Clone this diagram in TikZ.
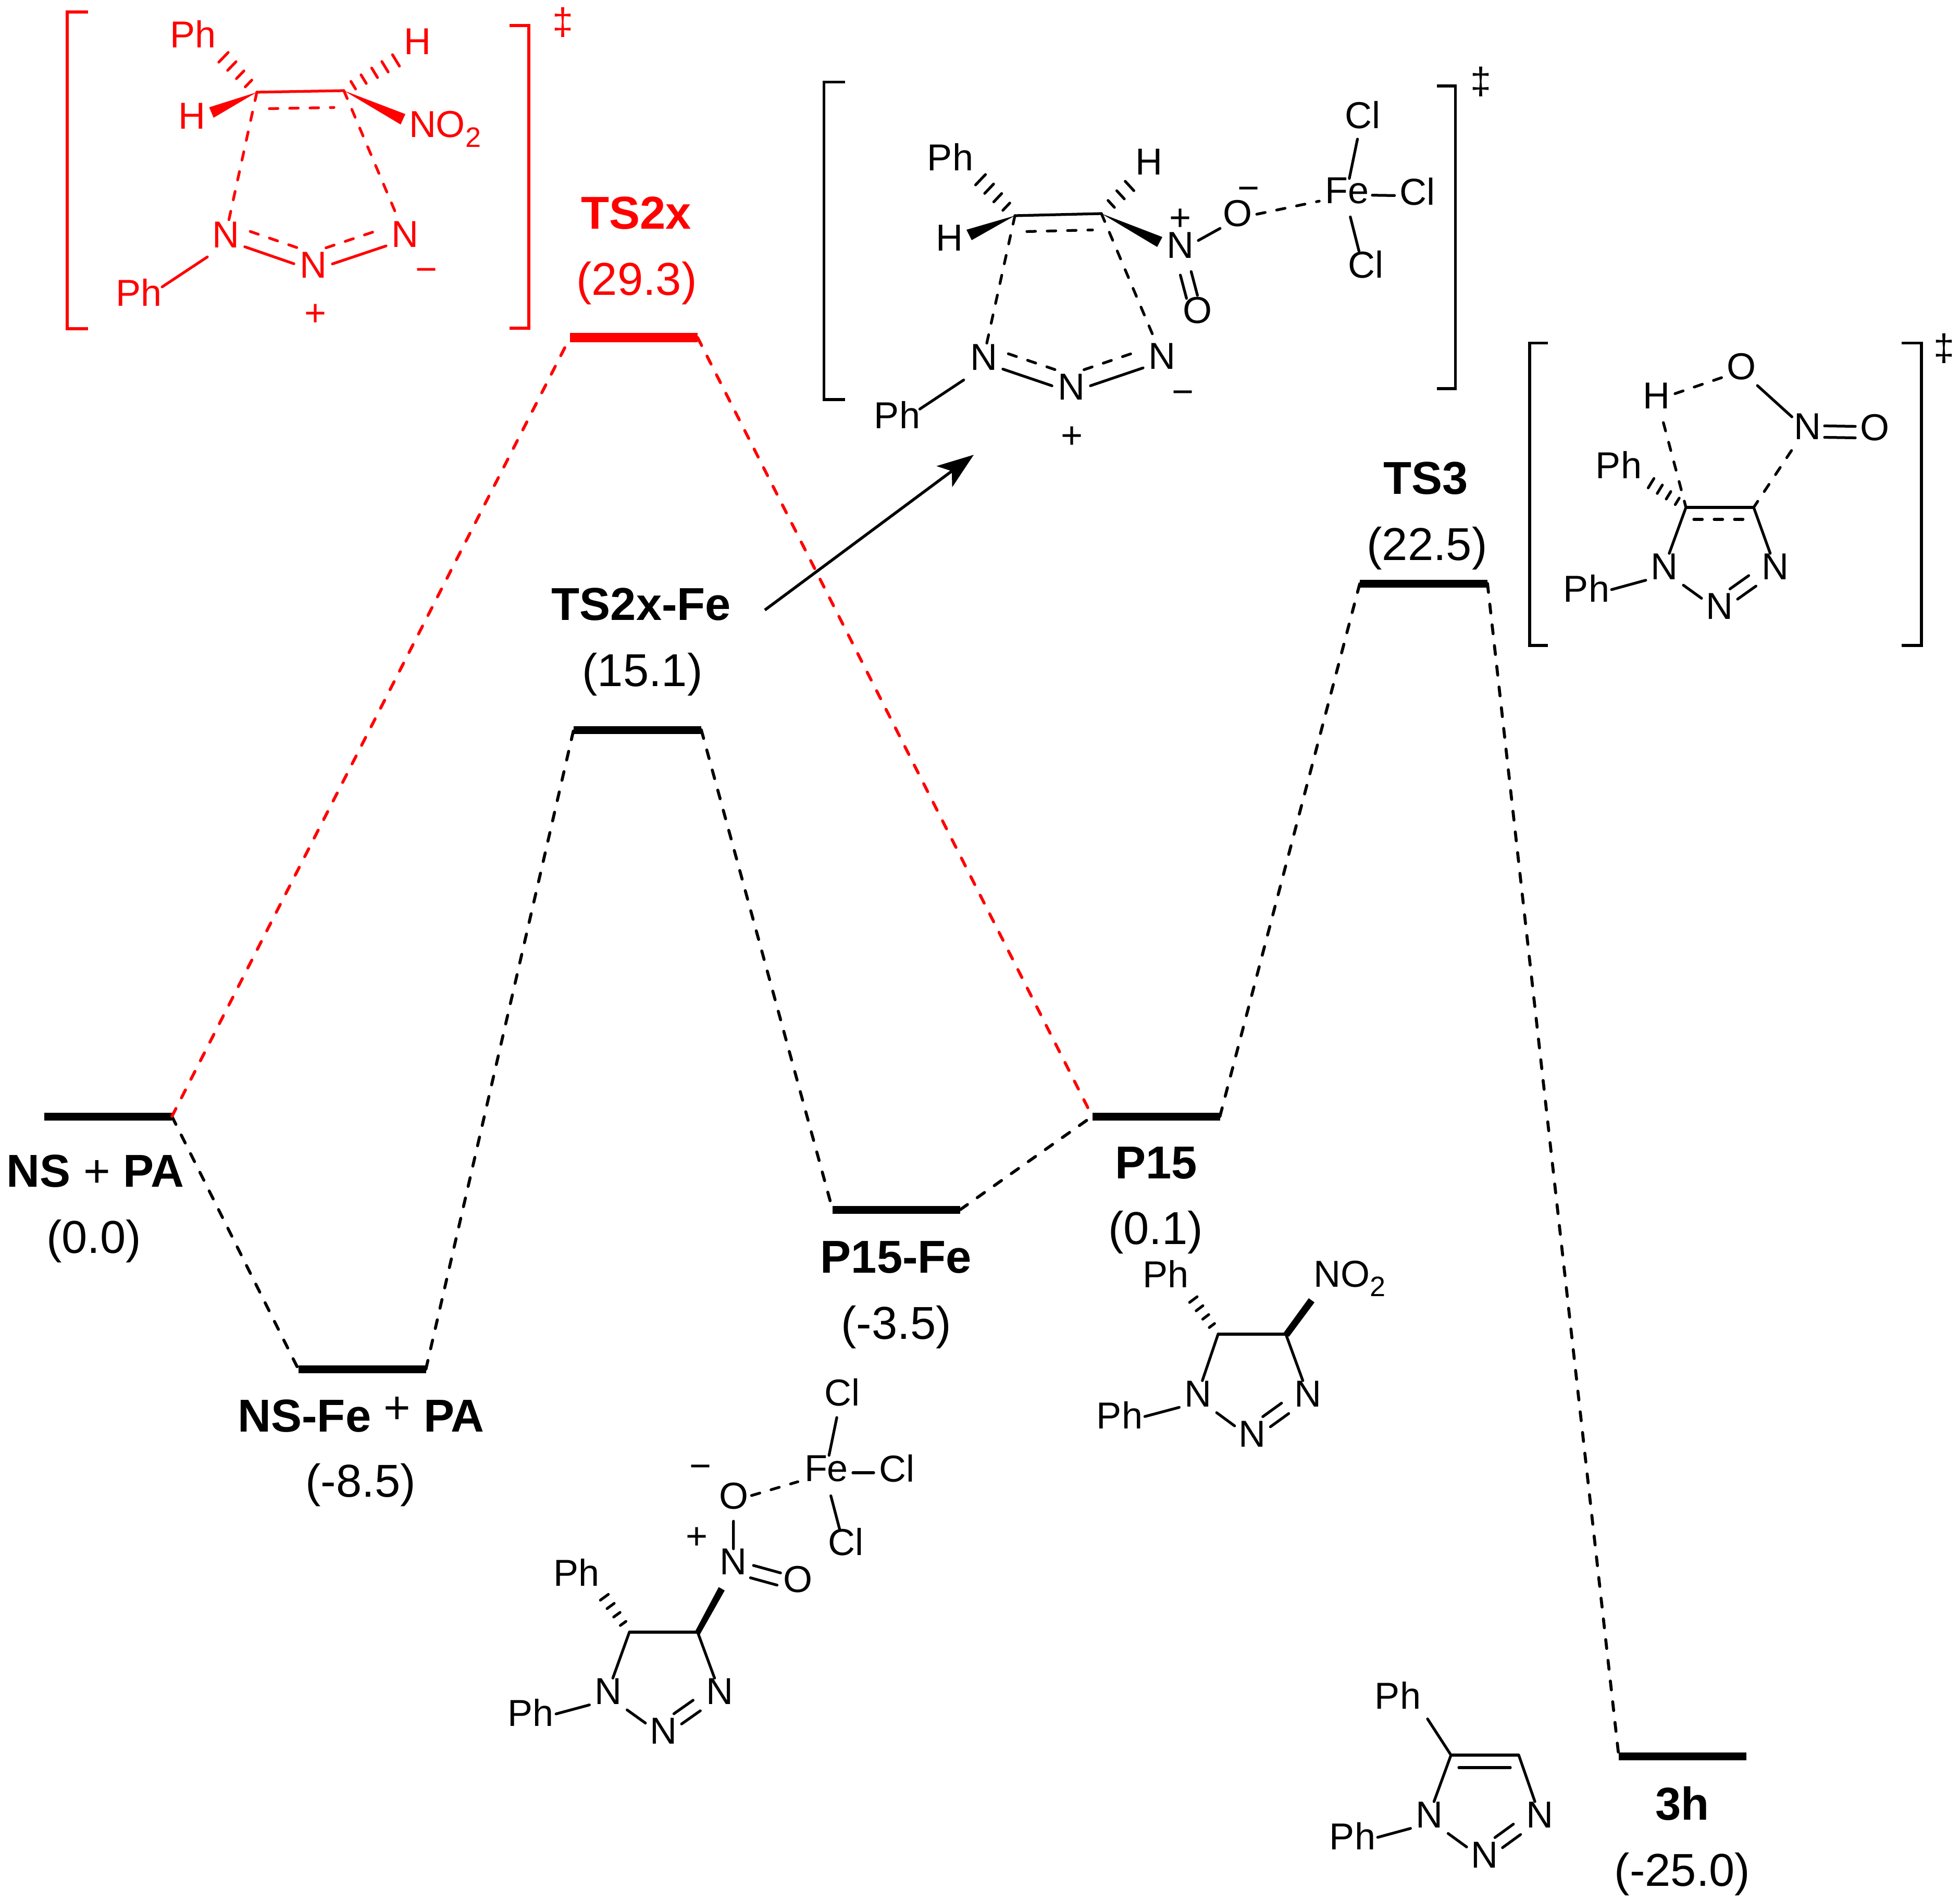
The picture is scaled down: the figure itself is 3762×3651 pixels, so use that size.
\documentclass[tikz,border=0pt]{standalone}
\usepackage{fontspec}
\setmainfont{Liberation Sans}
\usetikzlibrary{arrows.meta,calc}
\newcommand{\pxu}{0.2pt}
\newcommand{\notwo}{NO\raisebox{-3.6pt}{\fontsize{10.8}{10.8}\selectfont 2}}
\tikzset{
  atom/.style={inner sep=0pt, font=\fontsize{14.4}{14.4}\selectfont},
  chg/.style={atom, text height=9.2pt, text depth=0pt},
  bond/.style={line width=1.05pt, line cap=round},
  bdash/.style={bond, dash pattern=on 3.3pt off 4.5pt},
  brk/.style={line width=1.05pt},
  lvl/.style={fill=black, minimum width=49pt, minimum height=3pt, inner sep=0pt, outer sep=0pt},
  cdash/.style={line width=1.15pt, line cap=round, dash pattern=on 3.4pt off 4.6pt},
  labn/.style={anchor=base, inner sep=0pt, font=\fontsize{17.7}{17.7}\selectfont\bfseries},
  labv/.style={anchor=base, inner sep=0pt, font=\fontsize{17.7}{17.7}\selectfont},
  arr/.style={-{Stealth[length=14pt,width=10pt,inset=3.5pt]}, line width=1.1pt},
}
% bond between centres: style, from, to, shift, trim at from, trim at to
\newcommand{\bnd}[6][bond]{\draw[#1, shorten <=#5*\pxu, shorten >=#6*\pxu]
  ([shift={(#4)}]#2.center) -- ([shift={(#4)}]#3.center);}
\newcommand{\hashbond}[5]{\foreach \hb in {#5}{\pgfmathsetmacro{\hk}{.6+.4*\hb}
  \draw[bond] ($(#1)!\hb!(#2)+({(#3)*\hk},{(#4)*\hk})$) -- ($(#1)!\hb!(#2)-({(#3)*\hk},{(#4)*\hk})$);}}
% N-N-N with Ph, closed ring
\newcommand{\triaz}[4]{\bnd{#1}{#2}{0,16}{50}{37}
  \bnd{#2}{#3}{0,9}{45}{42}
  \bnd{#3}{#4}{0,-19}{25}{62}
  \bnd{#3}{#4}{0,11}{43}{45}}
% N-N-N in the forming ring
\newcommand{\deloc}[3]{\bnd{#1}{#2}{0,10}{39}{39}
  \bnd[bdash]{#1}{#2}{0,-23}{50}{26}
  \bnd{#2}{#3}{0,10}{39}{38}
  \bnd[bdash]{#2}{#3}{0,-25}{26}{50}}

\begin{document}
\begin{tikzpicture}[x=0.2pt, y=-0.2pt]
  \useasboundingbox (0,0) rectangle (3762,3651);
  % levels
  \node[lvl] (ns) at (207.5,2143) {};
  \node[lvl] (nsfe) at (695,2628) {};
  \node[lvl, fill=red, minimum height=3.6pt] (tx) at (1216.5,648) {};
  \node[lvl] (tf) at (1223.5,1401) {};
  \node[lvl] (pf) at (1720.5,2322) {};
  \node[lvl] (pp) at (2219,2143) {};
  \node[lvl] (tt) at (2732.5,1120) {};
  \node[lvl] (hh) at (3229.5,3371) {};
  % paths
  \draw[cdash] (ns.east) -- (nsfe.west);
  \draw[cdash] (nsfe.east) -- (tf.west);
  \draw[cdash] (tf.east) -- (pf.west);
  \draw[cdash] (pf.east) -- (pp.west);
  \draw[cdash] (pp.east) -- (tt.west);
  \draw[cdash] (tt.east) -- (hh.west);
  \draw[cdash, red] (ns.east) -- (tx.west);
  \draw[cdash, red] (tx.east) -- (pp.west);
  % labels
  \node[labn, red] (tx-name) at (1221,440) {TS2x};
  \node[labv, red] (tx-val) at (1222,566) {(29.3)};
  \node[labn] (tf-name) at (1231,1190) {TS2x-Fe};
  \node[labv] (tf-val) at (1233,1317) {(15.1)};
  \node[labn] (tt-name) at (2737,948) {TS3};
  \node[labv] (tt-val) at (2739,1075) {(22.5)};
  \node[labv] (ns-name) at (183,2278) {\textbf{NS} + \textbf{PA}};
  \node[labv] (ns-val) at (180,2405) {(0.0)};
  \node[labv] (nsfe-name) at (693,2748) {\textbf{NS-Fe} \raisebox{3.2pt}{+} \textbf{PA}};
  \node[labv] (nsfe-val) at (692,2873) {(-8.5)};
  \node[labn] (pf-name) at (1720,2443) {P15-Fe};
  \node[labv] (pf-val) at (1720,2570) {(-3.5)};
  \node[labn] (pp-name) at (2219,2262) {P15};
  \node[labv] (pp-val) at (2218,2388) {(0.1)};
  \node[labn] (hh-name) at (3229,3493) {3h};
  \node[labv] (hh-val) at (3229,3620) {(-25.0)};
  % arrow to the iron TS
  \coordinate (arr-a) at (1468,1171);
  \coordinate (arr-b) at (1869,873);
  \draw[arr] (arr-a) -- (arr-b);
  % TS2x
  \begin{scope}[red]
    \draw[brk] (169,23) -- (129,23) -- (129,631) -- (169,631);
    \draw[brk] (978,49) -- (1015,49) -- (1015,630) -- (978,630);
    \node[atom] (tx-dag) at (1081,43) {‡};
    \coordinate (tx-c1) at (493,177);
    \coordinate (tx-c2) at (660,174);
    \node[atom] (tx-ph) at (371,65) {Ph};
    \node[atom] (tx-h1) at (368,223) {H};
    \node[atom] (tx-h2) at (801,80) {H};
    \node[atom, anchor=base west] (tx-no) at (784,264) {\notwo};
    \node[atom] (tx-n1) at (433,451) {N};
    \node[atom] (tx-n2) at (601,509) {N};
    \node[atom] (tx-n3) at (777,450) {N};
    \node[atom] (tx-ph2) at (267,561) {Ph};
    \node[chg] (tx-minus) at (819,518) {−};
    \node[chg] (tx-plus) at (606,602) {+};
    \coordinate (tx-wa) at (401.5,206);
    \coordinate (tx-wb) at (410,226);
    \coordinate (tx-wc) at (778,219);
    \coordinate (tx-wd) at (769,239);
    \coordinate (tx-ha) at (429,110);
    \coordinate (tx-hb) at (760,116);
    \fill (tx-c1) -- (tx-wa) -- (tx-wb) -- cycle;
    \fill (tx-c2) -- (tx-wc) -- (tx-wd) -- cycle;
    \hashbond{tx-c1}{tx-ha}{9}{-9.3}{.25,.5,.75,1}
    \hashbond{tx-c2}{tx-hb}{6.7}{11}{.18,.38,.59,.79,1}
    \draw[bond] (tx-c1) -- (tx-c2);
    \bnd[bdash]{tx-c1}{tx-c2}{0,32}{24}{19}
    \draw[bdash] (tx-c1) -- (tx-n1);
    \draw[bdash] (tx-c2) -- (tx-n3);
    \deloc{tx-n1}{tx-n2}{tx-n3}
    \bnd{tx-ph2}{tx-n1}{0,19}{53}{42}
  \end{scope}
  % TS2x-Fe
  \draw[brk] (1622,157.5) -- (1581.5,157.5) -- (1581.5,767) -- (1622,767);
  \draw[brk] (2758,165) -- (2793.5,165) -- (2793.5,746) -- (2758,746);
  \node[atom] (tf-dag) at (2842,157) {‡};
  \coordinate (tf-c1) at (1948,414);
  \coordinate (tf-c2) at (2114,410);
  \node[atom] (tf-ph) at (1824,301) {Ph};
  \node[atom] (tf-h1) at (1822,457) {H};
  \node[atom] (tf-h2) at (2205,311) {H};
  \node[atom] (tf-no) at (2265,471) {N};
  \node[chg] (tf-plus2) at (2265,419) {+};
  \node[atom] (tf-o1) at (2375,410) {O};
  \node[chg] (tf-minus2) at (2396,362.5) {−};
  \node[atom] (tf-o2) at (2298,596) {O};
  \node[atom] (tf-fe) at (2585,366) {Fe};
  \node[atom] (tf-cl1) at (2615,221) {Cl};
  \node[atom] (tf-cl2) at (2720.5,368) {Cl};
  \node[atom] (tf-cl3) at (2621,508) {Cl};
  \node[atom] (tf-n1) at (1888,686) {N};
  \node[atom] (tf-n2) at (2056,743) {N};
  \node[atom] (tf-n3) at (2230,684) {N};
  \node[atom] (tf-ph2) at (1722,796) {Ph};
  \node[chg] (tf-minus) at (2271,753) {−};
  \node[chg] (tf-plus) at (2058,837) {+};
  \coordinate (tf-wa) at (1855,441);
  \coordinate (tf-wb) at (1865,461);
  \coordinate (tf-wc) at (2231,455);
  \coordinate (tf-wd) at (2221,474);
  \coordinate (tf-ha) at (1882,345);
  \coordinate (tf-hb) at (2168,357);
  \fill (tf-c1) -- (tf-wa) -- (tf-wb) -- cycle;
  \fill (tf-c2) -- (tf-wc) -- (tf-wd) -- cycle;
  \hashbond{tf-c1}{tf-ha}{9.5}{-10}{.25,.5,.75,1}
  \hashbond{tf-c2}{tf-hb}{8.3}{9}{.35,.68,1}
  \draw[bond] (tf-c1) -- (tf-c2);
  \bnd[bdash]{tf-c1}{tf-c2}{0,31}{23}{17}
  \draw[bdash] (tf-c1) -- (tf-n1);
  \draw[bdash] (tf-c2) -- (tf-n3);
  \deloc{tf-n1}{tf-n2}{tf-n3}
  \bnd{tf-ph2}{tf-n1}{0,18}{52}{46}
  \bnd{tf-no}{tf-o1}{0,10}{40}{38}
  \bnd{tf-no}{tf-o2}{-14.5,0}{59}{24}
  \bnd{tf-no}{tf-o2}{8,0}{52}{30}
  \bnd[bdash]{tf-o1}{tf-fe}{0,9}{38}{54}
  \bnd{tf-fe}{tf-cl1}{0,0}{24}{47}
  \bnd{tf-fe}{tf-cl2}{0,8}{49}{44}
  \bnd{tf-fe}{tf-cl3}{-6,0}{52}{27}
  % TS3
  \draw[brk] (2971,658.5) -- (2936,658.5) -- (2936,1239) -- (2971,1239);
  \draw[brk] (3650,658.5) -- (3688,658.5) -- (3688,1239) -- (3650,1239);
  \node[atom] (tt-dag) at (3731,669) {‡};
  \coordinate (tt-c1) at (3236,974);
  \coordinate (tt-c2) at (3366,974);
  \node[atom] (tt-o1) at (3342,704) {O};
  \node[atom] (tt-h) at (3179,760) {H};
  \node[atom] (tt-no) at (3469,819) {N};
  \node[atom] (tt-o2) at (3598,821) {O};
  \node[atom] (tt-ph) at (3107,892) {Ph};
  \node[atom] (tt-ph2) at (3045,1129) {Ph};
  \node[atom] (tt-n1) at (3194.5,1088) {N};
  \node[atom] (tt-n2) at (3300,1164) {N};
  \node[atom] (tt-n3) at (3407,1088) {N};
  \coordinate (tt-ha) at (3169,927.5);
  \hashbond{tt-c1}{tt-ha}{5.5}{-9}{.25,.5,.75,1}
  \draw[bond] (tt-c1) -- (tt-c2);
  \bnd[bdash]{tt-c1}{tt-c2}{0,23}{15}{13.5}
  \draw[bond] (tt-c1) -- (tt-n1);
  \draw[bond] (tt-c2) -- (tt-n3);
  \bnd[bdash]{tt-h}{tt-o1}{0,8}{38}{38}
  \bnd[bdash]{tt-h}{tt-c1}{0,0}{53}{0}
  \bnd[bdash]{tt-no}{tt-c2}{0,0}{55}{0}
  \bnd{tt-o1}{tt-no}{0,8}{42}{40}
  \bnd{tt-no}{tt-o2}{0,-2}{33}{37}
  \bnd{tt-no}{tt-o2}{0,20}{33}{37}
  \triaz{tt-ph2}{tt-n1}{tt-n2}{tt-n3}
  % P15-Fe
  \coordinate (pf-c1) at (1208,3133);
  \coordinate (pf-c2) at (1339,3133);
  \node[atom] (pf-cl1) at (1616,2673) {Cl};
  \node[atom] (pf-fe) at (1586,2819) {Fe};
  \node[atom] (pf-cl2) at (1721,2819) {Cl};
  \node[atom] (pf-cl3) at (1623,2960) {Cl};
  \node[atom] (pf-o1) at (1408,2872) {O};
  \node[chg] (pf-minus) at (1345,2815) {−};
  \node[chg] (pf-plus) at (1338,2950.6) {+};
  \node[atom] (pf-no) at (1407.6,2998) {N};
  \node[atom] (pf-o2) at (1531,3032) {O};
  \node[atom] (pf-ph) at (1107,3018) {Ph};
  \node[atom] (pf-ph2) at (1019,3287) {Ph};
  \node[atom] (pf-n1) at (1167,3247) {N};
  \node[atom] (pf-n2) at (1273,3323) {N};
  \node[atom] (pf-n3) at (1381,3247) {N};
  \coordinate (pf-wa) at (1379.5,3046.5);
  \coordinate (pf-wb) at (1391,3053);
  \coordinate (pf-wc) at (1343,3138);
  \coordinate (pf-wd) at (1335,3130);
  \coordinate (pf-ha) at (1160,3066);
  \fill (pf-wd) -- (pf-wa) -- (pf-wb) -- (pf-wc) -- cycle;
  \hashbond{pf-c1}{pf-ha}{7.7}{-5.6}{.25,.5,.75,1}
  \draw[bond] (pf-c1) -- (pf-c2);
  \draw[bond] (pf-c1) -- (pf-n1);
  \draw[bond] (pf-c2) -- (pf-n3);
  \bnd{pf-fe}{pf-cl1}{0,0}{26}{49}
  \bnd{pf-fe}{pf-cl2}{0,8}{51}{44}
  \bnd{pf-fe}{pf-cl3}{-5,0}{54}{26}
  \bnd[bdash]{pf-o1}{pf-fe}{0,9}{36}{57}
  \bnd{pf-o1}{pf-no}{0,0}{48}{25}
  \bnd{pf-no}{pf-o2}{0,-3.7}{40}{34}
  \bnd{pf-no}{pf-o2}{0,21.6}{34}{41}
  \triaz{pf-ph2}{pf-n1}{pf-n2}{pf-n3}
  % P15
  \coordinate (pp-c1) at (2338,2561);
  \coordinate (pp-c2) at (2468,2561);
  \node[atom] (pp-ph) at (2237.5,2445) {Ph};
  \node[atom, anchor=base west] (pp-no) at (2520,2470) {\notwo};
  \node[atom] (pp-ph2) at (2149,2716) {Ph};
  \node[atom] (pp-n1) at (2299,2676) {N};
  \node[atom] (pp-n2) at (2403.5,2753) {N};
  \node[atom] (pp-n3) at (2510,2676) {N};
  \coordinate (pp-wa) at (2512,2492);
  \coordinate (pp-wb) at (2523,2500);
  \coordinate (pp-wc) at (2474,2566);
  \coordinate (pp-wd) at (2464,2558);
  \coordinate (pp-ha) at (2290.5,2494.6);
  \fill (pp-wd) -- (pp-wa) -- (pp-wb) -- (pp-wc) -- cycle;
  \hashbond{pp-c1}{pp-ha}{7.3}{-5.5}{.25,.5,.75,1}
  \draw[bond] (pp-c1) -- (pp-c2);
  \draw[bond] (pp-c1) -- (pp-n1);
  \draw[bond] (pp-c2) -- (pp-n3);
  \triaz{pp-ph2}{pp-n1}{pp-n2}{pp-n3}
  % 3h
  \coordinate (hh-c1) at (2785,3369);
  \coordinate (hh-c2) at (2915,3369);
  \node[atom] (hh-ph) at (2683,3254) {Ph};
  \node[atom] (hh-ph2) at (2596,3524) {Ph};
  \node[atom] (hh-n1) at (2743,3484) {N};
  \node[atom] (hh-n2) at (2849,3561) {N};
  \node[atom] (hh-n3) at (2955,3484) {N};
  \draw[bond, shorten <=22*\pxu] (hh-ph.south east) -- (hh-c1);
  \draw[bond] (hh-c1) -- (hh-c2);
  \bnd{hh-c1}{hh-c2}{0,24}{15}{16}
  \draw[bond] (hh-c1) -- (hh-n1);
  \draw[bond] (hh-c2) -- (hh-n3);
  \triaz{hh-ph2}{hh-n1}{hh-n2}{hh-n3}
\end{tikzpicture}
\end{document}
